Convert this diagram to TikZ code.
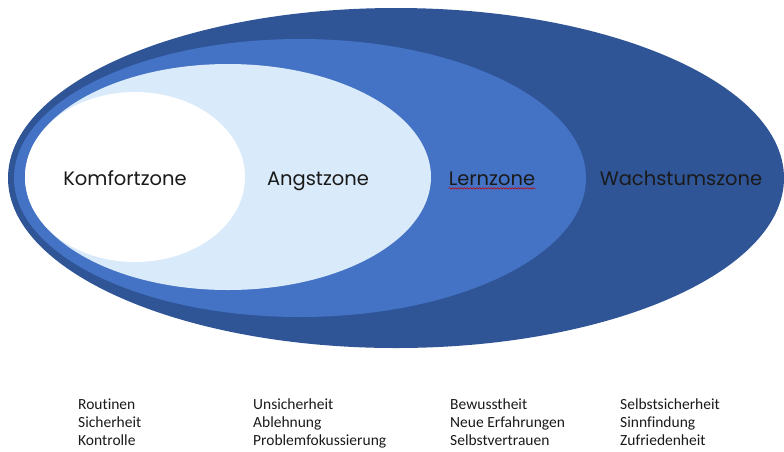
\documentclass[tikz,border=0pt]{standalone}
\usepackage{fontspec}
\setmainfont{Poppins}
\newfontfamily\listfont[Ligatures={NoCommon,NoContextual}]{Carlito}
\usepackage{tikz}
\usetikzlibrary{positioning, decorations.pathmorphing}
\definecolor{wachstum}{HTML}{2F5597}
\definecolor{lern}{HTML}{4472C4}
\definecolor{angst}{HTML}{D9EAFA}
\definecolor{schrift}{HTML}{1A1A1A}

\begin{document}
\begin{tikzpicture}[x=1pt,y=-1pt]
\tikzstyle{every node}+=[inner sep=0pt]
\tikzstyle{zone}=[font=\fontsize{19.5}{23}\selectfont, text=schrift, anchor=base]
\tikzstyle{liste}=[font=\listfont\fontsize{15.5}{18.3}\selectfont, text=schrift, align=left, anchor=base west]
\useasboundingbox (0,0) rectangle (784,451);
\fill [white] (0,0) rectangle (784,451);
% zones, outermost first
\fill [wachstum] (396,178) ellipse (388 and 170);
\fill [lern] (300,178) ellipse (286 and 139);
\fill [angst] (228,177) ellipse (203 and 113);
\fill [white] (135,177) ellipse (110 and 85);
\node [zone] (komfort) at (125,185) {Komfortzone};
\node [zone] (angstz) at (318,185) {Angstzone};
\node [zone] (lernz) at (492,185) {Lernzone};
\node [zone] (wachstumz) at (681,185) {Wachstumszone};
\draw [red!80!black, line width=0.6pt, decorate, decoration={snake, amplitude=0.7pt, segment length=3pt}]
  ([yshift=-3pt]lernz.south west) -- ([yshift=-3pt]lernz.south east);
% lists (base = last line)
\node [liste] (routinen) at (78,445.6) {Routinen\\Sicherheit\\Kontrolle};
\node [liste] (unsicher) at (253,445.6) {Unsicherheit\\Ablehnung\\Problemfokussierung};
\node [liste] (bewusst) at (450,445.6) {Bewusstheit\\Neue Erfahrungen\\Selbstvertrauen};
\node [liste] (selbst) at (620,445.6) {Selbstsicherheit\\Sinnfindung\\Zufriedenheit};
\end{tikzpicture}
\end{document}
